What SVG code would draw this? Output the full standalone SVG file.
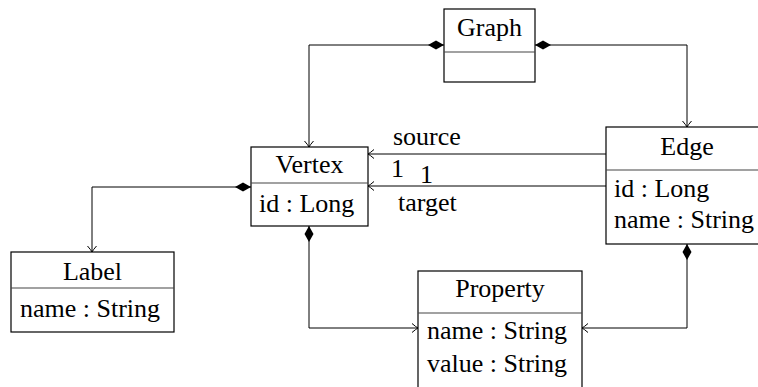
<svg xmlns="http://www.w3.org/2000/svg" width="758" height="387" viewBox="0 0 758 387" font-family="'Liberation Serif', 'Times New Roman', Times, 'DejaVu Serif', serif">
<style>
  text { font-family: 'Liberation Serif', 'Times New Roman', Times, 'DejaVu Serif', serif; font-size: 26px; fill: #000; }
  .c { text-anchor: middle; }
  .box { fill: #fff; stroke: #000; stroke-width: 1.2; }
  .div { stroke: #444; stroke-width: 1.2; }
  .conn { fill: none; stroke: #000; stroke-width: 1; }
</style>
<defs>
  <marker id="dia" markerUnits="userSpaceOnUse" viewBox="-1 -5 18 10" refX="0" refY="0" markerWidth="18" markerHeight="10" orient="auto">
    <path d="M0,0 L8,-4.5 L16,0 L8,4.5 Z" fill="#000"/>
  </marker>
  <marker id="arr" markerUnits="userSpaceOnUse" viewBox="-8 -6 10 12" refX="0" refY="0" markerWidth="10" markerHeight="12" orient="auto">
    <path d="M-6,-4.5 Q-2,-1 0,0 Q-2,1 -6,4.5" fill="none" stroke="#000" stroke-width="1"/>
  </marker>
</defs>
<g id="connectors">
  <path class="conn" d="M444,45 L309,45 L309,147" marker-start="url(#dia)" marker-end="url(#arr)"/>
  <path class="conn" d="M535,45 L687,45 L687,127" marker-start="url(#dia)" marker-end="url(#arr)"/>
  <path class="conn" d="M606,154 L368,154" marker-end="url(#arr)"/>
  <path class="conn" d="M606,186 L368,186" marker-end="url(#arr)"/>
  <path class="conn" d="M251,187 L92,187 L92,252" marker-start="url(#dia)" marker-end="url(#arr)"/>
  <path class="conn" d="M309,226 L309,328 L418,328" marker-start="url(#dia)" marker-end="url(#arr)"/>
  <path class="conn" d="M687,244 L687,328 L582,328" marker-start="url(#dia)" marker-end="url(#arr)"/>
  <text x="393" y="145">source</text>
  <text x="391" y="177">1</text>
  <text x="420" y="183">1</text>
  <text x="398" y="211">target</text>
</g>
<g id="graph">
  <rect class="box" x="444" y="9" width="91" height="73"/>
  <line class="div" x1="444" y1="52" x2="535" y2="52"/>
  <text class="c" x="489.5" y="36">Graph</text>
</g>
<g id="vertex">
  <rect class="box" x="251" y="147" width="117" height="79"/>
  <line class="div" x1="251" y1="183" x2="368" y2="183"/>
  <text class="c" x="309.5" y="173">Vertex</text>
  <text x="259" y="212">id : Long</text>
</g>
<g id="edge">
  <rect class="box" x="606" y="127" width="162" height="117"/>
  <line class="div" x1="606" y1="170" x2="768" y2="170"/>
  <text class="c" x="687" y="155">Edge</text>
  <text x="614" y="197">id : Long</text>
  <text x="614" y="228">name : String</text>
</g>
<g id="label">
  <rect class="box" x="11" y="252" width="163" height="80"/>
  <line class="div" x1="11" y1="288" x2="174" y2="288"/>
  <text class="c" x="92.5" y="280">Label</text>
  <text x="20" y="317">name : String</text>
</g>
<g id="property">
  <rect class="box" x="418" y="271" width="164" height="130"/>
  <line class="div" x1="418" y1="313" x2="582" y2="313"/>
  <text class="c" x="500" y="297">Property</text>
  <text x="427" y="339">name : String</text>
  <text x="427" y="372">value : String</text>
</g>
</svg>
